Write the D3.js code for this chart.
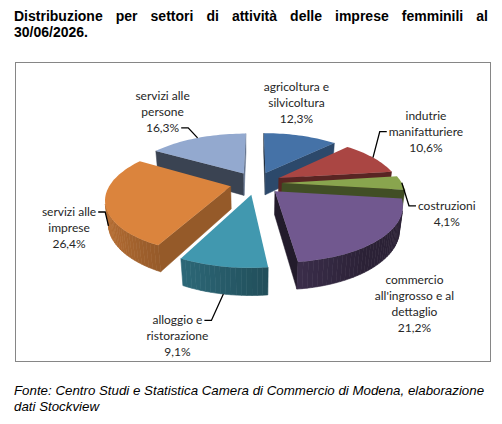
<!DOCTYPE html>
<html>
<head>
<meta charset="utf-8">
<script src="https://cdn.jsdelivr.net/npm/d3@7"></script>
<style>
body { margin: 0; background: #fff; }
</style>
</head>
<body>
<svg id="chart" width="502" height="424"></svg>
<script>
// data
var sectors = [
	['agricoltura e', 'silvicoltura'],
	['indutrie', 'manifatturiere'],
	['costruzioni'],
	['commercio', "all'ingrosso e al", 'dettaglio'],
	['alloggio e', 'ristorazione'],
	['servizi alle', 'imprese'],
	['servizi alle', 'persone']
];
var shares = [12.3, 10.6, 4.1, 21.2, 9.1, 26.4, 16.3];
var colors = ['#4572A7', '#AA4643', '#89A54E', '#71588F', '#4198AF', '#DB843D', '#93A9CF'];

var titleLines = [
	'Distribuzione per settori di attività delle imprese femminili al',
	'30/06/2026.'
];
var sourceLines = [
	'Fonte: Centro Studi e Statistica Camera di Commercio di Modena, elaborazione',
	'dati Stockview'
];

// label layout, relative to the outer edge of each slice: [dx, dy, leader side, leader line]
var labelLayout = [
	[-4, -45, null, 0],
	[53, -38, 'left', 1],
	[45, 27, 'left', 0],
	[33, 46, null, 0],
	[-45, 58, 'right', 0],
	[-36, 14, 'right', 0],
	[-35, -38, 'right', 2]
];

var svg = d3.select('#chart');

// 3d view
var tilt = 25.7 * Math.PI / 180;
var camDist = 4.27;
var focal = 512;
var thick = 0.213;
var explode = 0.217;
var cx = 256, cy = 183;
var camPos = [0, camDist * Math.sin(tilt), -camDist * Math.cos(tilt)];

function project(X, Y, Z) {
	var yc = Y * Math.cos(tilt) + Z * Math.sin(tilt);
	var zc = -Y * Math.sin(tilt) + Z * Math.cos(tilt) + camDist;
	return [cx + focal * X / zc, cy - focal * yc / zc];
}

function facing(p, n) {
	return (camPos[0] - p[0]) * n[0] + (camPos[1] - p[1]) * n[1] + (camPos[2] - p[2]) * n[2] > 0;
}

function shade(col, f) {
	var c = d3.rgb(col);
	return d3.rgb(c.r * f, c.g * f, c.b * f).formatHex();
}

var pie = d3.pie().sort(null).value(d => d);
var arcs = pie(shares);

var line = d3.line();

// title
var title = svg.append('g')
	.style('font', 'bold 14px "Liberation Sans", Arial, sans-serif')
	.attr('fill', '#000');

function justify(g, str, x0, x1, y) {
	var words = str.split(' ');
	var nodes = words.map(w => g.append('text').attr('y', y).text(w));
	var widths = nodes.map(n => n.node().getComputedTextLength());
	var gap = (x1 - x0 - d3.sum(widths)) / (words.length - 1);
	var x = x0;
	nodes.forEach((n, i) => {
		n.attr('x', x);
		x += widths[i] + gap;
	});
}
justify(title, titleLines[0], 14, 488, 21);
title.append('text').attr('x', 14).attr('y', 37).text(titleLines[1]);

// frame
svg.append('rect')
	.attr('x', 15.5).attr('y', 62.5)
	.attr('width', 475).attr('height', 299)
	.attr('fill', '#fff')
	.attr('stroke', '#868686');

// slices
var slices = arcs.map((a, i) => {
	var mid = (a.startAngle + a.endAngle) / 2;
	return {
		i: i,
		a0: a.startAngle,
		a1: a.endAngle,
		mid: mid,
		ox: explode * Math.sin(mid),
		oz: explode * Math.cos(mid)
	};
});

var pieG = svg.append('g');

slices.slice().sort((a, b) => Math.cos(b.mid) - Math.cos(a.mid)).forEach(s => {
	var col = colors[s.i];
	var g = pieG.append('g');
	var steps = Math.max(4, Math.ceil((s.a1 - s.a0) / (Math.PI / 90)));
	var angles = d3.range(steps + 1).map(k => s.a0 + (s.a1 - s.a0) * k / steps);
	var edge = (a, y) => [s.ox + Math.sin(a), y, s.oz + Math.cos(a)];
	var apex = y => [s.ox, y, s.oz];
	var poly = pts => line(pts.map(p => project(p[0], p[1], p[2]))) + 'Z';

	// radial faces
	[[s.a0, -1], [s.a1, 1]].forEach(f => {
		var a = f[0];
		var n = [f[1] * Math.cos(a), 0, -f[1] * Math.sin(a)];
		if (!facing(apex(0), n)) return;
		var c = shade(col, Math.max(0.3, 0.5 + 0.2 * n[0]));
		g.append('path')
			.attr('d', poly([apex(0), edge(a, 0), edge(a, -thick), apex(-thick)]))
			.attr('fill', c)
			.attr('stroke', c)
			.attr('stroke-width', 0.5);
	});

	// outer side
	for (var k = 0; k < steps; k++) {
		var am = (angles[k] + angles[k + 1]) / 2;
		var n = [Math.sin(am), 0, Math.cos(am)];
		if (!facing(edge(am, 0), n)) continue;
		var f = Math.min(0.9, Math.max(0.38, 0.55 - 0.3 * Math.sin(am)));
		g.append('path')
			.attr('d', poly([edge(angles[k], 0), edge(angles[k + 1], 0), edge(angles[k + 1], -thick), edge(angles[k], -thick)]))
			.attr('fill', shade(col, f))
			.attr('stroke', shade(col, f))
			.attr('stroke-width', 0.6);
	}

	// top
	g.append('path')
		.attr('d', poly([apex(0)].concat(angles.map(a => edge(a, 0)))))
		.attr('fill', col);
});

// labels
var labelG = svg.append('g')
	.style('font', '12px Lato, "Open Sans", sans-serif')
	.attr('fill', '#262626')
	.attr('text-anchor', 'middle');

var leaderG = svg.append('g')
	.attr('fill', 'none')
	.attr('stroke', '#000')
	.attr('stroke-width', 1.3);

slices.forEach(s => {
	var lay = labelLayout[s.i];
	var ex = s.ox + Math.sin(s.mid), ez = s.oz + Math.cos(s.mid);
	var anchorTop = project(ex, 0, ez);
	var lx = anchorTop[0] + lay[0];
	var ly = anchorTop[1] + lay[1];
	var lines = sectors[s.i].concat([d3.format('.1f')(shares[s.i]).replace('.', ',') + '%']);
	var texts = lines.map((t, j) => labelG.append('text')
		.attr('x', lx)
		.attr('y', ly + j * 16)
		.text(t));

	if (lay[2]) {
		var t = texts[lay[3]];
		var w = t.node().getComputedTextLength();
		var yy = ly + lay[3] * 16 - 4;
		var sx = lay[2] == 'left' ? lx - w / 2 - 2 : lx + w / 2 + 2;
		var bx = lay[2] == 'left' ? sx - 7 : sx + 7;
		var end = ez < -0.1 ? project(ex, -thick, ez) : anchorTop;
		leaderG.append('path').attr('d', line([[sx, yy], [bx, yy], end]));
	}
});

// source note
var note = svg.append('g')
	.style('font', 'italic 13.3px "Liberation Sans", Arial, sans-serif')
	.attr('fill', '#000');
sourceLines.forEach((t, j) => {
	note.append('text').attr('x', 14).attr('y', 395 + j * 16).text(t);
});
</script>
</body>
</html>
